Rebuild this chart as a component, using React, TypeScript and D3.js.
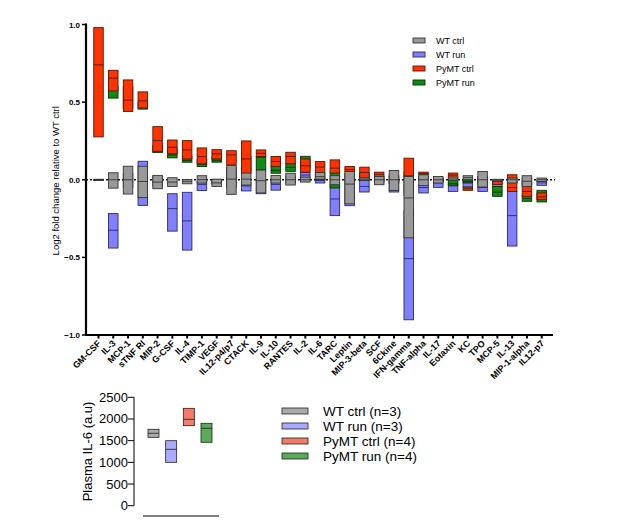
import React from "react";
import * as d3 from "d3";

const categories = [
  "GM-CSF", "IL-3", "MCP-1", "sTNF RI", "MIP-2", "G-CSF", "IL-4", "TIMP-1", "VEGF",
  "IL12-p4/p7", "CTACK", "IL-9", "IL-10", "RANTES", "IL-2", "IL-6", "TARC", "Leptin",
  "MIP-3-beta", "SCF", "6Ckine", "IFN-gamma", "TNF-alpha", "IL-17", "Eotaxin", "KC",
  "TPO", "MCP-5", "IL-13", "MIP-1-alpha", "IL12-p7",
];

// floating bars: min / mean / max of log2 fold change
const wtCtrlMin = [-0.003, -0.054, -0.092, -0.115, -0.058, -0.043, -0.026, -0.021, -0.043, -0.094, -0.034, -0.085, -0.021, -0.034, -0.015, 0.004, -0.032, -0.155, -0.005, -0.032, -0.069, -0.374, -0.038, -0.021, -0.004, 0.0, -0.047, -0.011, -0.021, -0.043, -0.011];
const wtCtrlMean = [0, 0, 0, -0.011, -0.015, -0.015, -0.01, 0.0, -0.02, 0.004, 0.004, -0.006, 0.0, 0.0, 0.0, 0.02, 0.0, -0.028, 0.0, 0.0, 0.0, -0.117, 0.0, 0.0, 0.005, 0.013, 0.0, -0.004, 0.0, -0.01, 0.0];
const wtCtrlMax = [0.003, 0.045, 0.087, 0.087, 0.028, 0.013, 0.002, 0.026, 0.004, 0.092, 0.043, 0.062, 0.028, 0.042, 0.017, 0.047, 0.026, 0.053, 0.011, 0.021, 0.06, 0.021, 0.032, 0.021, 0.017, 0.026, 0.053, 0.003, 0.011, 0.026, 0.011];

const wtRunMin = [-0.002, -0.44, -0.05, -0.165, -0.04, -0.331, -0.453, -0.069, -0.03, -0.05, -0.072, -0.09, -0.067, -0.02, 0.0, -0.021, -0.231, -0.167, -0.079, -0.02, -0.079, -0.902, -0.085, -0.049, -0.075, -0.047, -0.075, -0.043, -0.427, -0.03, -0.036];
const wtRunMean = [0, -0.325, -0.01, -0.02, -0.01, -0.186, -0.265, -0.03, -0.01, 0.0, -0.04, -0.04, -0.03, 0.0, 0.03, -0.005, -0.124, -0.08, -0.043, 0.0, -0.03, -0.508, -0.05, -0.02, -0.04, -0.02, -0.05, -0.02, -0.231, -0.01, -0.02];
const wtRunMax = [0.002, -0.218, 0.04, 0.119, 0.02, -0.09, -0.081, -0.01, 0.0, 0.05, -0.02, 0.0, -0.005, 0.02, 0.049, 0.01, -0.04, 0.0, 0.0, 0.02, 0.0, -0.2, -0.03, 0.0, -0.02, 0.0, -0.02, -0.005, -0.075, 0.01, -0.005];

const pymtCtrlMin = [0.276, 0.572, 0.44, 0.462, 0.183, 0.167, 0.134, 0.103, 0.134, 0.096, 0.04, 0.15, 0.086, 0.103, 0.049, 0.047, 0.043, 0.053, 0.011, 0.021, -0.02, 0.021, 0.032, -0.01, 0.005, -0.068, -0.02, -0.03, -0.075, -0.107, -0.128];
const pymtCtrlMean = [0.74, 0.654, 0.513, 0.508, 0.252, 0.209, 0.192, 0.149, 0.167, 0.16, 0.134, 0.17, 0.118, 0.15, 0.09, 0.082, 0.075, 0.065, 0.047, 0.035, 0.0, 0.025, 0.04, 0.0, 0.03, -0.058, 0.0, -0.01, -0.05, -0.075, -0.11];
const pymtCtrlMax = [0.98, 0.705, 0.643, 0.566, 0.342, 0.256, 0.252, 0.205, 0.194, 0.187, 0.25, 0.192, 0.15, 0.177, 0.134, 0.117, 0.128, 0.085, 0.081, 0.049, 0.03, 0.139, 0.049, 0.01, 0.043, -0.047, 0.02, 0.0, 0.032, -0.02, -0.085];

const pymtRunMin = [-0.002, 0.526, 0.46, 0.455, 0.175, 0.141, 0.113, 0.085, 0.113, 0.0, 0.05, 0.064, 0.042, 0.054, 0.07, 0.0, -0.053, 0.0, 0.0, -0.01, -0.02, -0.1, 0.0, -0.01, -0.035, -0.02, -0.02, -0.107, -0.02, -0.139, -0.143];
const pymtRunMean = [0, 0.575, 0.52, 0.48, 0.2, 0.16, 0.125, 0.1, 0.125, 0.05, 0.1, 0.145, 0.06, 0.08, 0.1, 0.02, 0.0, 0.02, 0.02, 0.0, 0.0, 0.0, 0.01, 0.0, -0.025, -0.01, 0.0, -0.08, 0.0, -0.12, -0.11];
const pymtRunMax = [0.002, 0.6, 0.6, 0.5, 0.22, 0.2, 0.15, 0.13, 0.15, 0.08, 0.15, 0.15, 0.09, 0.105, 0.151, 0.04, 0.05, 0.04, 0.04, 0.01, 0.02, 0.05, 0.02, 0.01, 0.0, 0.0, 0.02, -0.043, 0.01, -0.1, -0.068];

const yTicks = [1.0, 0.5, 0.0, -0.5, -1.0];

// plasma IL-6 panel
const il6Groups = ["WT ctrl (n=3)", "WT run (n=3)", "PyMT ctrl (n=4)", "PyMT run (n=4)"];
const il6Min = [1577, 1001, 1845, 1462];
const il6Mean = [1670, 1300, 1992, 1785];
const il6Max = [1762, 1499, 2246, 1900];
const il6Ticks = [0, 500, 1000, 1500, 2000, 2500];

const FONT = "Arial, 'Liberation Sans', sans-serif";

const series = [
  { name: "WT run", min: wtRunMin, mean: wtRunMean, max: wtRunMax, fill: "#8080ff", stroke: "#2a2a66" },
  { name: "PyMT run", min: pymtRunMin, mean: pymtRunMean, max: pymtRunMax, fill: "#108a10", stroke: "#0a300a" },
  { name: "PyMT ctrl", min: pymtCtrlMin, mean: pymtCtrlMean, max: pymtCtrlMax, fill: "#ff3300", stroke: "#5a1400" },
  { name: "WT ctrl", min: wtCtrlMin, mean: wtCtrlMean, max: wtCtrlMax, fill: "#999999", stroke: "#333333" },
];

const legendTop = [
  { name: "WT ctrl", fill: "#999999", stroke: "#333333" },
  { name: "WT run", fill: "#8080ff", stroke: "#2a2a66" },
  { name: "PyMT ctrl", fill: "#ff3300", stroke: "#5a1400" },
  { name: "PyMT run", fill: "#108a10", stroke: "#0a300a" },
];

const il6Fill = ["#aaaaaa", "#aaaaff", "#f47a6a", "#5aaa5a"];

const App: React.FC = () => {
  const x = d3.scalePoint<string>().domain(categories).range([98.5, 541.7]);
  const y = d3.scaleLinear().domain([-1, 1]).range([335, 24.5]);
  const barW = 9.5;

  const x2 = d3.scalePoint<string>().domain(il6Groups).range([153.5, 206.5]);
  const y2 = d3.scaleLinear().domain([0, 2500]).range([505.7, 397.3]);
  const boxW = 11;

  return (
    <svg width={617} height={529} style={{ position: "absolute", left: 0, top: 0, background: "#fff" }}>
      {/* y axis */}
      <line x1={86} x2={86} y1={y(1) - 1} y2={y(-1)} stroke="#000" strokeWidth={2.2} />
      {yTicks.map((t) => (
        <g key={t}>
          <line x1={82} x2={86} y1={y(t)} y2={y(t)} stroke="#000" strokeWidth={1.5} />
          <text x={80} y={y(t) + 3} textAnchor="end" fontFamily={FONT} fontSize={8} fontWeight="bold">
            {d3.format(".1f")(t)}
          </text>
        </g>
      ))}
      <text
        transform={`translate(58.5,${y(0) + 1}) rotate(-90)`}
        textAnchor="middle"
        fontFamily={FONT}
        fontSize={9.5}
      >
        Log2 fold change relative to WT ctrl
      </text>

      {/* x axis at -1 */}
      <line x1={85} x2={553} y1={y(-1)} y2={y(-1)} stroke="#000" strokeWidth={2.2} />
      {categories.map((c) => (
        <g key={c}>
          <line x1={x(c)} x2={x(c)} y1={y(-1)} y2={y(-1) + 3.5} stroke="#000" strokeWidth={2} />
          <text
            transform={`translate(${(x(c) as number) + 3},${y(-1) + 9}) rotate(-45)`}
            textAnchor="end"
            fontFamily={FONT}
            fontSize={9}
            fontWeight="bold"
          >
            {c}
          </text>
        </g>
      ))}

      {/* zero reference */}
      <line x1={86} x2={555} y1={y(0)} y2={y(0)} stroke="#111" strokeWidth={1.5} strokeDasharray="2,2" />

      {/* floating bars */}
      {series.map((s) => (
        <g key={s.name}>
          {categories.map((c, i) => {
            const cx = x(c) as number;
            const top = y(s.max[i]);
            const bottom = y(s.min[i]);
            return (
              <g key={c}>
                <rect
                  x={cx - barW / 2}
                  y={top}
                  width={barW}
                  height={Math.max(bottom - top, 0.6)}
                  fill={s.fill}
                  stroke={s.stroke}
                  strokeWidth={0.9}
                />
                <line
                  x1={cx - barW / 2}
                  x2={cx + barW / 2}
                  y1={y(s.mean[i])}
                  y2={y(s.mean[i])}
                  stroke={s.stroke}
                  strokeWidth={0.9}
                />
              </g>
            );
          })}
        </g>
      ))}

      {/* top legend */}
      {legendTop.map((l, i) => (
        <g key={l.name} transform={`translate(413,${41 + i * 14})`}>
          <rect x={0} y={-3} width={12} height={5} fill={l.fill} stroke={l.stroke} strokeWidth={0.9} />
          <text x={23} y={2.5} fontFamily={FONT} fontSize={9}>
            {l.name}
          </text>
        </g>
      ))}

      {/* IL-6 panel */}
      <line x1={134} x2={134} y1={y2(2500)} y2={y2(0)} stroke="#000" strokeWidth={1} />
      {il6Ticks.map((t) => (
        <g key={t}>
          <line x1={128} x2={134} y1={y2(t)} y2={y2(t)} stroke="#000" strokeWidth={1} />
          <text x={128} y={y2(t) + 4.5} textAnchor="end" fontFamily={FONT} fontSize={13}>
            {t}
          </text>
        </g>
      ))}
      <text
        transform={`translate(92,${(y2(0) + y2(2500)) / 2}) rotate(-90)`}
        textAnchor="middle"
        fontFamily={FONT}
        fontSize={13}
      >
        Plasma IL-6 (a.u)
      </text>
      <line x1={143} x2={219} y1={516} y2={516} stroke="#000" strokeWidth={1} />
      {il6Groups.map((g, i) => {
        const cx = x2(g) as number;
        return (
          <g key={g}>
            <rect
              x={cx - boxW / 2}
              y={y2(il6Max[i])}
              width={boxW}
              height={y2(il6Min[i]) - y2(il6Max[i])}
              fill={il6Fill[i]}
              stroke="#222"
              strokeWidth={0.8}
            />
            <line
              x1={cx - boxW / 2}
              x2={cx + boxW / 2}
              y1={y2(il6Mean[i])}
              y2={y2(il6Mean[i])}
              stroke="#222"
              strokeWidth={0.8}
            />
          </g>
        );
      })}

      {/* IL-6 legend */}
      {il6Groups.map((g, i) => (
        <g key={g} transform={`translate(282,${411 + i * 15})`}>
          <rect x={0} y={-3} width={26} height={6} fill={il6Fill[i]} stroke="#222" strokeWidth={0.8} />
          <text x={41} y={5} fontFamily={FONT} fontSize={13.5}>
            {g}
          </text>
        </g>
      ))}
    </svg>
  );
};

export default App;
